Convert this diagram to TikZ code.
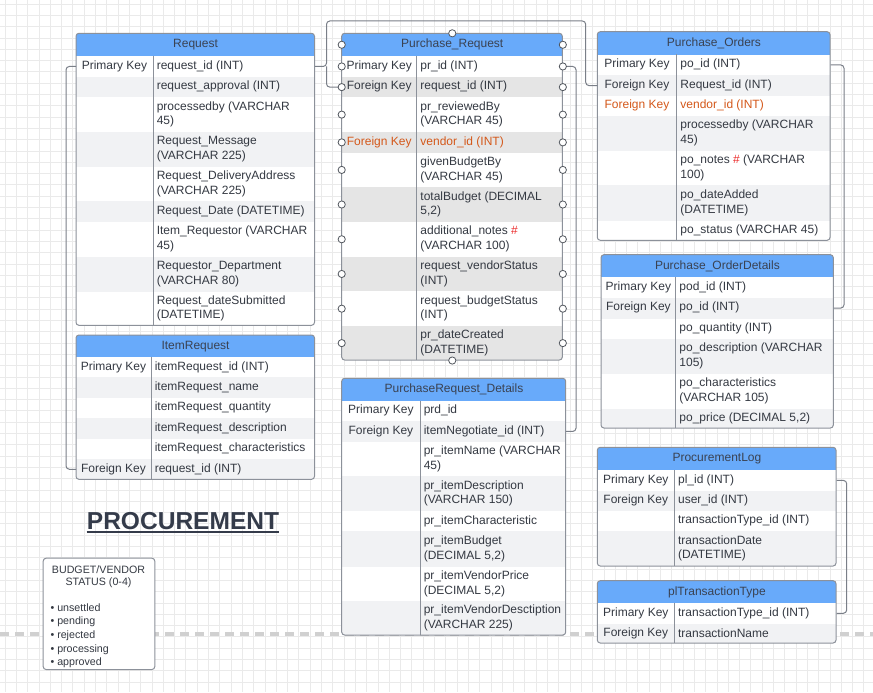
\documentclass[tikz,border=0pt]{standalone}
\usepackage{fontspec}
\setmainfont{Liberation Sans}
\usetikzlibrary{calc}
\definecolor{hdrblue}{RGB}{104,170,250}
\definecolor{rowgrey}{RGB}{241,242,244}
\definecolor{selgrey}{RGB}{229,229,229}
\definecolor{edgegrey}{RGB}{140,145,154}
\definecolor{linkgrey}{RGB}{122,127,136}
\definecolor{txtgrey}{RGB}{52,57,66}
\definecolor{hdrtxt}{RGB}{58,66,82}
\definecolor{fkorange}{RGB}{212,88,26}
\definecolor{hashred}{RGB}{236,45,45}
\definecolor{gridgrey}{RGB}{234,234,234}
\definecolor{dashgrey}{RGB}{208,208,208}

\def\pxu{0.75pt}
\newcommand{\settable}[3]{\def\tabL{#1}\def\tabR{#2}\def\tabK{#3}}
\newcommand{\tblhead}[4]{%
  \node[hdrcell, minimum width={(\tabR-\tabL)*\pxu}, minimum height={(#3-#2)*\pxu}] (#1) at (\tabL,#2) {#4};}
\newcommand{\erow}[6]{%
  \node[rowcell, fill=#4, minimum width={(\tabR-\tabL)*\pxu}, minimum height={#3*\pxu}] (#1) at (\tabL,#2) {};
  \node[keytxt] at ({(\tabL+\tabK)/2},{#2+#3/2}) {#5};
  \node[fldtxt] at ({\tabK+3.5},{#2+#3/2}) {#6};}
\newcommand{\tblframe}[3]{%
  \draw[tbledge] (\tabL,#1) rectangle (\tabR,#3);
  \draw[tbledge, rounded corners=0pt] (\tabK,#2) -- (\tabK,#3);}

\begin{document}
\begin{tikzpicture}[x=0.75pt, y=-0.75pt,
  hdrcell/.style={anchor=north west, fill=hdrblue, inner sep=0, text=hdrtxt, font=\fontsize{9}{11}\selectfont},
  rowcell/.style={anchor=north west, inner sep=0},
  keytxt/.style={inner sep=0, text=txtgrey, font=\fontsize{9}{11}\selectfont},
  fldtxt/.style={anchor=west, align=left, inner sep=0, text=txtgrey, font=\fontsize{9}{11}\selectfont},
  tbledge/.style={draw=edgegrey, line width=0.75pt, rounded corners=2.2pt},
  link/.style={draw=linkgrey, line width=0.75pt, rounded corners=2.5pt},
  handle/.style={circle, draw=txtgrey!85, fill=white, line width=0.6pt, minimum size=5.4pt, inner sep=0},
  gridline/.style={draw=gridgrey, line width=0.5pt},
  pagebreak/.style={draw=dashgrey, line width=2.6pt, dash pattern=on 6.75pt off 4.5pt},
  note/.style={draw=edgegrey, fill=white, rounded corners=2.2pt, line width=0.75pt, inner sep=0, anchor=north west},
  notetxt/.style={inner sep=0, text=txtgrey, font=\fontsize{8}{9}\selectfont},
  titletxt/.style={inner sep=0, text=hdrtxt!90!black, font=\bfseries\fontsize{18.4}{22}\selectfont},
  titleline/.style={draw=hdrtxt!90!black, line width=1.5pt}]

\useasboundingbox (0,0) rectangle (873,692);
\fill[white] (0,0) rectangle (873,692);
\foreach \gx in {5,16.3,...,873} \draw[gridline] (\gx,0) -- (\gx,692);
\foreach \gy in {4,15.3,...,692} \draw[gridline] (0,\gy) -- (873,\gy);
\draw[pagebreak] (0,634) -- (873,634);

% Request
\settable{76}{314.5}{153}
\begin{scope}
\clip[rounded corners=2.2pt] (\tabL,33.3) rectangle (\tabR,325.3);
\tblhead{req-0}{33.3}{55.7}{Request}
\erow{req-1}{55.7}{21}{white}{Primary Key}{request\_id (INT)}
\erow{req-2}{76.7}{20.3}{rowgrey}{}{request\_approval (INT)}
\erow{req-3}{97}{34.7}{white}{}{processedby (VARCHAR\\45)}
\erow{req-4}{131.7}{35}{rowgrey}{}{Request\_Message\\(VARCHAR 225)}
\erow{req-5}{166.7}{34.3}{white}{}{Request\_DeliveryAddress\\(VARCHAR 225)}
\erow{req-6}{201}{20.7}{rowgrey}{}{Request\_Date (DATETIME)}
\erow{req-7}{221.7}{35}{white}{}{Item\_Requestor (VARCHAR\\45)}
\erow{req-8}{256.7}{35}{rowgrey}{}{Requestor\_Department\\(VARCHAR 80)}
\erow{req-9}{291.7}{33.6}{white}{}{Request\_dateSubmitted\\(DATETIME)}
\end{scope}
\tblframe{33.3}{55.7}{325.3}

% ItemRequest
\settable{76}{314.5}{151}
\begin{scope}
\clip[rounded corners=2.2pt] (\tabL,335) rectangle (\tabR,479.3);
\tblhead{ir-0}{335}{356.7}{ItemRequest}
\erow{ir-1}{356.7}{20.4}{white}{Primary Key}{itemRequest\_id (INT)}
\erow{ir-2}{377.1}{20.4}{rowgrey}{}{itemRequest\_name}
\erow{ir-3}{397.5}{20.4}{white}{}{itemRequest\_quantity}
\erow{ir-4}{417.9}{20.4}{rowgrey}{}{itemRequest\_description}
\erow{ir-5}{438.3}{20.4}{white}{}{itemRequest\_characteristics}
\erow{ir-6}{458.7}{20.6}{rowgrey}{Foreign Key}{request\_id (INT)}
\end{scope}
\tblframe{335}{356.7}{479.3}

% Purchase_Request
\settable{341.7}{562.3}{416.7}
\begin{scope}
\clip[rounded corners=2.2pt] (\tabL,33.3) rectangle (\tabR,360);
\tblhead{pr-0}{33.3}{55.7}{Purchase\_Request}
\erow{pr-1}{55.7}{21}{white}{Primary Key}{pr\_id (INT)}
\erow{pr-2}{76.7}{20.3}{selgrey}{Foreign Key}{request\_id (INT)}
\erow{pr-3}{97}{34.7}{white}{}{pr\_reviewedBy\\(VARCHAR 45)}
\erow{pr-4}{131.7}{20.8}{selgrey}{\color{fkorange}Foreign Key}{\color{fkorange}vendor\_id (INT)}
\erow{pr-5}{152.5}{34.3}{white}{}{givenBudgetBy\\(VARCHAR 45)}
\erow{pr-6}{186.8}{34.9}{selgrey}{}{totalBudget (DECIMAL\\5,2)}
\erow{pr-7}{221.7}{34.6}{white}{}{additional\_notes {\color{hashred}\#}\\(VARCHAR 100)}
\erow{pr-8}{256.3}{34.8}{selgrey}{}{request\_vendorStatus\\(INT)}
\erow{pr-9}{291.1}{34.6}{white}{}{request\_budgetStatus\\(INT)}
\erow{pr-10}{325.7}{34.3}{selgrey}{}{pr\_dateCreated\\(DATETIME)}
\end{scope}
\tblframe{33.3}{55.7}{360}

% Purchase_Orders
\settable{597.3}{830}{676.7}
\begin{scope}
\clip[rounded corners=2.2pt] (\tabL,31.7) rectangle (\tabR,240.3);
\tblhead{po-0}{31.7}{54.3}{Purchase\_Orders}
\erow{po-1}{54.3}{20.7}{white}{Primary Key}{po\_id (INT)}
\erow{po-2}{75}{20.7}{rowgrey}{Foreign Key}{Request\_id (INT)}
\erow{po-3}{95.7}{19.6}{white}{\color{fkorange}Foreign Key}{\color{fkorange}vendor\_id (INT)}
\erow{po-4}{115.3}{35.5}{rowgrey}{}{processedby (VARCHAR\\45)}
\erow{po-5}{150.8}{34.4}{white}{}{po\_notes {\color{hashred}\#} (VARCHAR\\100)}
\erow{po-6}{185.2}{35.3}{rowgrey}{}{po\_dateAdded\\(DATETIME)}
\erow{po-7}{220.5}{19.8}{white}{}{po\_status (VARCHAR 45)}
\end{scope}
\tblframe{31.7}{54.3}{240.3}

% Purchase_OrderDetails
\settable{601}{833.3}{675.7}
\begin{scope}
\clip[rounded corners=2.2pt] (\tabL,254.7) rectangle (\tabR,428);
\tblhead{pod-0}{254.7}{276.7}{Purchase\_OrderDetails}
\erow{pod-1}{276.7}{20.6}{white}{Primary Key}{pod\_id (INT)}
\erow{pod-2}{297.3}{21}{rowgrey}{Foreign Key}{po\_id (INT)}
\erow{pod-3}{318.3}{20}{white}{}{po\_quantity (INT)}
\erow{pod-4}{338.3}{35}{rowgrey}{}{po\_description (VARCHAR\\105)}
\erow{pod-5}{373.3}{35}{white}{}{po\_characteristics\\(VARCHAR 105)}
\erow{pod-6}{408.3}{19.7}{rowgrey}{}{po\_price (DECIMAL 5,2)}
\end{scope}
\tblframe{254.7}{276.7}{428}

% PurchaseRequest_Details
\settable{341.7}{565.7}{420}
\begin{scope}
\clip[rounded corners=2.2pt] (\tabL,378.3) rectangle (\tabR,635);
\tblhead{prd-0}{378.3}{400.7}{PurchaseRequest\_Details}
\erow{prd-1}{400.7}{20}{white}{Primary Key}{prd\_id}
\erow{prd-2}{420.7}{21}{rowgrey}{Foreign Key}{itemNegotiate\_id (INT)}
\erow{prd-3}{441.7}{34.3}{white}{}{pr\_itemName (VARCHAR\\45)}
\erow{prd-4}{476}{35}{rowgrey}{}{pr\_itemDescription\\(VARCHAR 150)}
\erow{prd-5}{511}{20}{white}{}{pr\_itemCharacteristic}
\erow{prd-6}{531}{35.7}{rowgrey}{}{pr\_itemBudget\\(DECIMAL 5,2)}
\erow{prd-7}{566.7}{34.3}{white}{}{pr\_itemVendorPrice\\(DECIMAL 5,2)}
\erow{prd-8}{601}{34}{rowgrey}{}{pr\_itemVendorDesctiption\\(VARCHAR 225)}
\end{scope}
\tblframe{378.3}{400.7}{635}

% ProcurementLog
\settable{597.3}{836}{674.3}
\begin{scope}
\clip[rounded corners=2.2pt] (\tabL,447.3) rectangle (\tabR,566);
\tblhead{pl-0}{447.3}{470}{ProcurementLog}
\erow{pl-1}{470}{20.3}{white}{Primary Key}{pl\_id (INT)}
\erow{pl-2}{490.3}{20.4}{rowgrey}{Foreign Key}{user\_id (INT)}
\erow{pl-3}{510.7}{20}{white}{}{transactionType\_id (INT)}
\erow{pl-4}{530.7}{35.3}{rowgrey}{}{transactionDate\\(DATETIME)}
\end{scope}
\tblframe{447.3}{470}{566}

% plTransactionType
\begin{scope}
\clip[rounded corners=2.2pt] (\tabL,580.7) rectangle (\tabR,643);
\tblhead{tt-0}{580.7}{602.7}{plTransactionType}
\erow{tt-1}{602.7}{20.6}{white}{Primary Key}{transactionType\_id (INT)}
\erow{tt-2}{623.3}{19.7}{rowgrey}{Foreign Key}{transactionName}
\end{scope}
\tblframe{580.7}{602.7}{643}

% links
\coordinate (topL) at (326.5,21);
\coordinate (topR) at (585.7,21);
\coordinate (leftbus) at (66,0);
\coordinate (prbus) at (576,0);
\coordinate (pobus) at (844,0);
\coordinate (plbus) at (846.7,0);
\draw[link] (req-1.east) -| (topL) -- (topR) |- (po-2.west);
\draw[link] (topL |- req-1.east) |- (pr-2.west);
\draw[link] (req-1.west) -| (leftbus |- ir-6.west) -- (ir-6.west);
\draw[link] (pr-1.east) -| (prbus |- prd-2.east) -- (prd-2.east);
\draw[link] (po-1.east) -| (pobus |- pod-2.east) -- (pod-2.east);
\draw[link] (pl-1.east) -| (plbus |- tt-1.east) -- (tt-1.east);

\foreach \n in {0,...,10} {
  \node[handle] at (pr-\n.west) {};
  \node[handle] at (pr-\n.east) {};
}
\node[handle] at (pr-0.north) {};
\node[handle] at (pr-10.south) {};

\node[titletxt, anchor=base] (title) at (183,529.3) {PROCUREMENT};
\draw[titleline] ([yshift=-1.8pt]title.base west) -- ([yshift=-1.8pt]title.base east);

\node[note, minimum width=111.6*\pxu, minimum height=111.3*\pxu] (status) at (42.7,557.7) {};
\node[notetxt, align=center, anchor=north] (statushd) at (98.5,565.3) {BUDGET/VENDOR\\STATUS (0-4)};
\node[notetxt, align=left, anchor=north west, font=\fontsize{8}{10.3}\selectfont] (statuslist) at (50.3,603) {\textbullet\ unsettled\\\textbullet\ pending\\\textbullet\ rejected\\\textbullet\ processing\\\textbullet\ approved};
\end{tikzpicture}
\end{document}
